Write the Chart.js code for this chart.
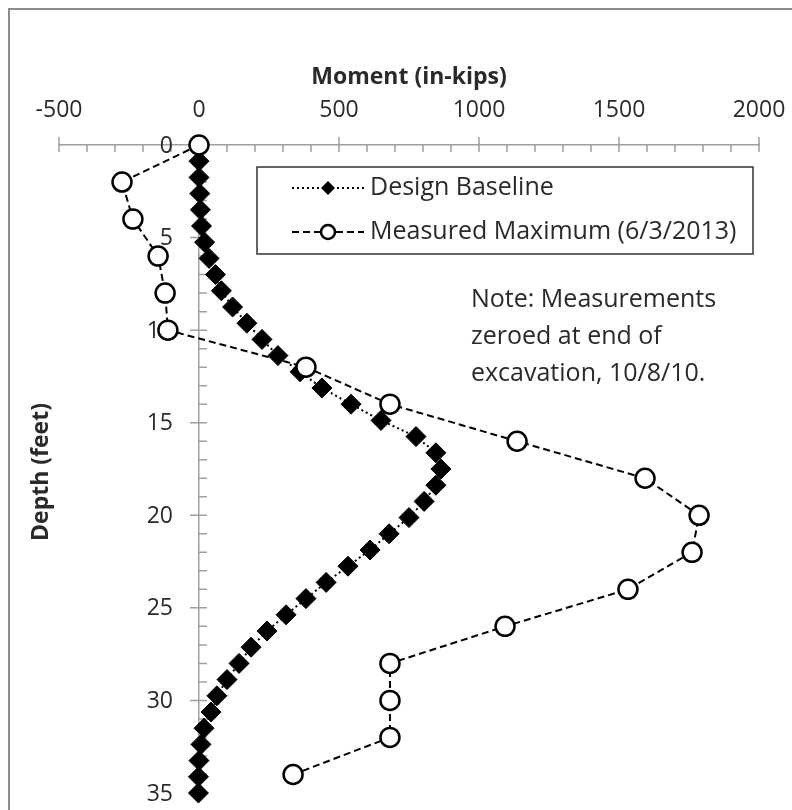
<!DOCTYPE html>
<html>
<head>
<meta charset="utf-8">
<script src="https://cdn.jsdelivr.net/npm/chart.js@4.4.1/dist/chart.umd.min.js"></script>
<style>
html, body { margin: 0; padding: 0; background: #fff; overflow: hidden; }
#frame { position: absolute; left: 8px; top: 8px; width: 900px; height: 900px; border: 2px solid #8c8c8c; }
#wrap { position: absolute; left: 0; top: 0; width: 792px; height: 810px; }
</style>
</head>
<body>
<div id="frame"></div>
<div id="wrap"><canvas id="chart" width="792" height="810"></canvas></div>
<script>
// depth (feet) and moment (in-kips)
var designDepth = [0, 0.875, 1.75, 2.625, 3.5, 4.375, 5.25, 6.125, 7, 7.875, 8.75, 9.625, 10.5, 11.375, 12.25, 13.125, 14,
    14.875, 15.75, 16.625, 17.5, 18.375, 19.25, 20.125, 21, 21.875, 22.75, 23.625, 24.5, 25.375, 26.25, 27.125, 28,
    28.875, 29.75, 30.625, 31.5, 32.375, 33.25, 34.125, 35];
var designMoment = [0, 0, 0, 3, 5, 9, 20, 36, 59, 80, 120, 171, 225, 282, 361, 439, 543,
    650, 775, 846, 864, 846, 804, 750, 679, 611, 532, 454, 382, 311, 243, 186, 143,
    100, 64, 43, 18, 7, 0, -2, -2];
var measuredDepth = [0, 2, 4, 6, 8, 10, 12, 14, 16, 18, 20, 22, 24, 26, 28, 30, 32, 34];
var measuredMoment = [0, -275, -236, -146, -121, -111, 382, 682, 1136, 1593, 1786, 1761, 1532, 1093, 682, 682, 682, 336];

var seriesNames = ['Design Baseline', 'Measured Maximum (6/3/2013)'];
var noteLines = ['Note: Measurements', 'zeroed at end of', 'excavation, 10/8/10.'];

var font = '"Open Sans"';
var fontSize = 23;
var textSize = 25;
var axisColor = '#a0a0a0';
var textColor = '#2a2a2a';

function toPoints(xs, ys) {
    var pts = [];
    for (var i = 0; i < xs.length; ++i) {
        pts.push({x: xs[i], y: ys[i]});
    }
    return pts;
}

// minor/major tick marks crossing the axes like Excel does, plus depth labels
var axisTicks = {
    id: 'axisTicks',
    beforeDatasetsDraw: function (chart) {
        var ctx = chart.ctx, xs = chart.scales.x, ys = chart.scales.y;
        var x0 = xs.getPixelForValue(0), y0 = ys.getPixelForValue(0);
        ctx.save();
        ctx.strokeStyle = axisColor;
        ctx.lineWidth = 1.5;
        ctx.beginPath();
        for (var v = xs.min; v <= xs.max; v += 100) {
            var px = xs.getPixelForValue(v);
            var major = v % 500 === 0;
            ctx.moveTo(px, y0 - (major ? 8 : 0));
            ctx.lineTo(px, y0 + 7);
        }
        for (var d = ys.min + 1; d <= ys.max; d += 1) {
            var py = ys.getPixelForValue(d);
            var majorY = d % 5 === 0;
            ctx.moveTo(x0 - (majorY ? 9 : 0), py);
            ctx.lineTo(x0 + 8, py);
        }
        ctx.stroke();

        ctx.fillStyle = textColor;
        ctx.font = fontSize + 'px ' + font;
        ctx.textAlign = 'right';
        ctx.textBaseline = 'middle';
        ys.ticks.forEach(function (t) {
            ctx.fillText(String(t.value), x0 - 26, ys.getPixelForValue(t.value) + 1);
        });
        ctx.restore();
    }
};

// legend box, note and the y title
var extras = {
    id: 'extras',
    afterDraw: function (chart) {
        var ctx = chart.ctx;
        ctx.save();
        ctx.fillStyle = '#fff';
        ctx.fillRect(257, 167, 496, 87);
        ctx.strokeStyle = '#333';
        ctx.lineWidth = 1.5;
        ctx.strokeRect(257, 167, 496, 87);

        var rows = [188, 232];
        for (var i = 0; i < 2; ++i) {
            var ds = chart.data.datasets[i];
            var y = rows[i];
            ctx.strokeStyle = '#000';
            ctx.lineWidth = 2;
            ctx.setLineDash(ds.borderDash);
            ctx.beginPath();
            ctx.moveTo(292, y);
            ctx.lineTo(364, y);
            ctx.stroke();
            ctx.setLineDash([]);
            if (i === 0) {
                ctx.fillStyle = '#000';
                ctx.beginPath();
                ctx.moveTo(328 - 7, y);
                ctx.lineTo(328, y - 7);
                ctx.lineTo(328 + 7, y);
                ctx.lineTo(328, y + 7);
                ctx.closePath();
                ctx.fill();
            } else {
                ctx.fillStyle = '#fff';
                ctx.lineWidth = 2.5;
                ctx.beginPath();
                ctx.arc(328, y, 7, 0, Math.PI * 2);
                ctx.fill();
                ctx.stroke();
            }
            ctx.fillStyle = textColor;
            ctx.font = textSize + 'px ' + font;
            ctx.textBaseline = 'middle';
            ctx.textAlign = 'left';
            ctx.fillText(seriesNames[i], 370, y);
        }

        ctx.fillStyle = textColor;
        ctx.font = textSize + 'px ' + font;
        for (var k = 0; k < noteLines.length; ++k) {
            ctx.fillText(noteLines[k], 471, 300 + k * 37);
        }

        ctx.translate(41, 472);
        ctx.rotate(-Math.PI / 2);
        ctx.textAlign = 'center';
        ctx.font = 'bold ' + fontSize + 'px ' + font;
        ctx.fillText('Depth (feet)', 0, 0);
        ctx.restore();
    }
};

new Chart(document.getElementById('chart'), {
    type: 'scatter',
    data: {
        datasets: [{
            label: seriesNames[0],
            data: toPoints(designMoment, designDepth),
            showLine: true,
            borderColor: '#000',
            borderWidth: 2,
            borderDash: [2, 3],
            pointStyle: 'rectRot',
            pointRadius: 10,
            pointBackgroundColor: '#000',
            pointBorderColor: '#000',
            pointBorderWidth: 1,
            clip: false,
            order: 2
        }, {
            label: seriesNames[1],
            data: toPoints(measuredMoment, measuredDepth),
            showLine: true,
            borderColor: '#000',
            borderWidth: 2,
            borderDash: [7, 4],
            pointStyle: 'circle',
            pointRadius: 9.5,
            pointBackgroundColor: '#fff',
            pointBorderColor: '#000',
            pointBorderWidth: 2.5,
            clip: false,
            order: 1
        }]
    },
    options: {
        responsive: false,
        animation: false,
        devicePixelRatio: 1,
        layout: {padding: {left: 59, right: 33, top: 0, bottom: 17}},
        plugins: {legend: {display: false}, tooltip: {enabled: false}},
        scales: {
            x: {
                type: 'linear',
                position: 'top',
                min: -500,
                max: 2000,
                afterFit: function (scale) {
                    scale.height = 145;
                    scale.paddingLeft = 0;
                    scale.paddingRight = 0;
                },
                ticks: {
                    stepSize: 500,
                    autoSkip: false,
                    maxRotation: 0,
                    padding: 13,
                    color: textColor,
                    font: {family: font, size: fontSize},
                    callback: function (value) { return String(value); }
                },
                grid: {display: false},
                border: {display: true, color: axisColor, width: 1.5},
                title: {
                    display: true,
                    text: 'Moment (in-kips)',
                    color: textColor,
                    font: {family: font, size: fontSize, weight: 'bold'},
                    padding: {top: 64, bottom: 0}
                }
            },
            y: {
                type: 'linear',
                position: {x: 0},
                reverse: true,
                min: 0,
                max: 35,
                ticks: {stepSize: 5, autoSkip: false, display: false},
                grid: {drawOnChartArea: false, drawTicks: false},
                border: {display: true, color: axisColor, width: 1.5}
            }
        }
    },
    plugins: [axisTicks, extras]
});
</script>
</body>
</html>
